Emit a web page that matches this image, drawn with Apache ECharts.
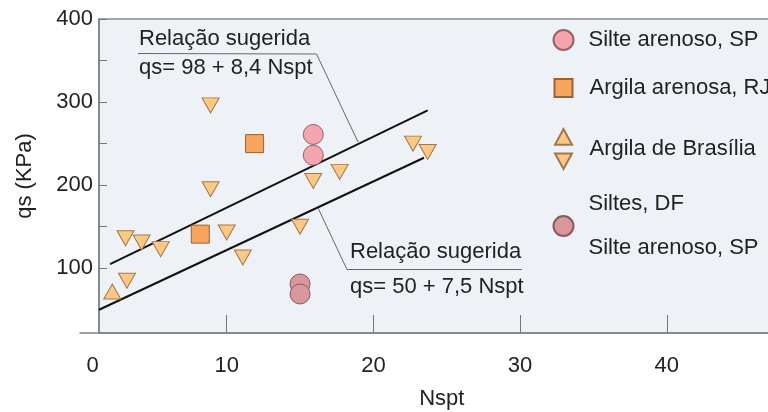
<!DOCTYPE html>
<html>
<head>
<meta charset="utf-8">
<script src="https://cdn.jsdelivr.net/npm/echarts@6/dist/echarts.min.js"></script>
<style>
  html, body { margin: 0; padding: 0; background: #fff; }
  #main { width: 768px; height: 412px; }
</style>
</head>
<body>
<div id="main"></div>
<script>
// dados (Nspt, qs)
var silteSP = [[15.9, 261], [15.9, 236]];
var argilaRJ = [[11.9, 250], [8.2, 141]];
var brasiliaDown = [[8.9, 296], [15.9, 205], [17.7, 216], [8.9, 195], [22.7, 250], [23.7, 240],
  [3.1, 136], [4.2, 131], [5.5, 123], [10.0, 143], [11.1, 113], [3.2, 85], [15.0, 150]];
var brasiliaUp = [[2.2, 72]];
var siltesDF = [[15.0, 81], [15.0, 69]];
// retas sugeridas (extremos)
var upperLine = [[2.05, 105], [23.7, 290]];
var lowerLine = [[1.3, 50], [23.45, 233]];
// eixos
var xLabels = [0, 10, 20, 30, 40];
var xTicks = [10, 20, 30, 40];
var yLabels = [100, 200, 300, 400];
var yTicks = [100, 150, 200, 250, 300, 350, 400];

var font = "'Liberation Sans', Arial, sans-serif";
var downTri = 'path://M0,0 L18,0 L9,16 Z';
var bothTri = 'path://M8.5,0 L17,15.7 L0,15.7 Z M0,24.4 L17,24.4 L8.5,40 Z';

var brasiliaData = brasiliaDown.map(function (v) { return { value: v }; })
  .concat(brasiliaUp.map(function (v) { return { value: v, symbol: 'triangle', symbolSize: [17, 15] }; }));

var myChart = echarts.init(document.getElementById('main'));

function legendItem(name, top, icon, w, h, textPad, extra) {
  var lg = {
    data: [{ name: name, icon: icon }],
    left: 562.5 - w / 2,
    top: top,
    padding: 0,
    itemWidth: w,
    itemHeight: h,
    selectedMode: false,
    textStyle: { fontSize: 22, fontFamily: font, color: '#222', padding: textPad }
  };
  if (extra) {
    for (var k in extra) lg[k] = extra[k];
  }
  return lg;
}

var option = {
  animation: false,
  textStyle: { fontFamily: font },
  grid: { left: 80, top: 19, width: 733.5, height: 314, outerBoundsMode: 'none' },
  xAxis: {
    type: 'value',
    min: 0,
    max: 50,
    name: 'Nspt',
    nameLocation: 'middle',
    nameGap: 55,
    nameTextStyle: { fontSize: 22, color: '#222', padding: [0, 10, 0, 0] },
    axisLine: { lineStyle: { color: '#808080', width: 1.5 } },
    axisTick: { inside: true, length: 18, customValues: xTicks, lineStyle: { color: '#777' } },
    axisLabel: {
      customValues: xLabels,
      fontSize: 22,
      color: '#222',
      margin: 22,
      formatter: function (v) { return v === 0 ? '{z|0}' : String(v); },
      rich: { z: { fontSize: 22, color: '#222', padding: [0, 0, 0, 25] } }
    },
    splitLine: { show: false }
  },
  yAxis: {
    type: 'value',
    min: 22,
    max: 400,
    offset: -19,
    name: 'qs (KPa)',
    nameLocation: 'middle',
    nameGap: 63,
    nameTextStyle: { fontSize: 22, color: '#222' },
    axisLine: { show: true, lineStyle: { color: '#808080', width: 1.5 } },
    axisTick: { show: true, inside: true, length: 8, customValues: yTicks, lineStyle: { color: '#777' } },
    axisLabel: { customValues: yLabels, fontSize: 22, color: '#222', margin: 6 },
    splitLine: { show: false }
  },
  legend: [
    legendItem('Silte arenoso, SP', 29, 'circle', 20, 20, [0, 0, 0, 10]),
    legendItem('Argila arenosa, RJ', 77, 'rect', 18, 18, [0, 0, 0, 12]),
    legendItem('Argila de Brasília', 128, bothTri, 17, 40, [0, 0, 7, 12.5]),
    legendItem('Siltes, DF', 193, 'circle', 20, 20, [0, 0, 0, 10], {
      formatter: function () { return 'Siltes, DF\n\nSilte arenoso, SP'; }
    })
  ],
  graphic: [
    // fundo da área do gráfico
    { type: 'rect', z: -100, silent: true,
      shape: { x: 99, y: 19, width: 720, height: 314 },
      style: { fill: '#eef2f6', stroke: '#8a8a8a', lineWidth: 1.5 } },
    // anotação superior
    { type: 'polyline', silent: true, z: 5,
      shape: { points: [[138, 53.5], [316.5, 54], [358, 142]] },
      style: { stroke: '#666', lineWidth: 1, fill: null } },
    { type: 'text', silent: true, z: 5,
      style: { text: 'Relação sugerida', x: 139, y: 38.5, verticalAlign: 'middle', fontSize: 22, fontFamily: font, fill: '#222' } },
    { type: 'text', silent: true, z: 5,
      style: { text: 'qs= 98 + 8,4 Nspt', x: 139, y: 68, verticalAlign: 'middle', fontSize: 22, fontFamily: font, fill: '#222' } },
    // anotação inferior
    { type: 'polyline', silent: true, z: 5,
      shape: { points: [[318, 208], [347, 269.5], [522, 269.5]] },
      style: { stroke: '#666', lineWidth: 1, fill: null } },
    { type: 'text', silent: true, z: 5,
      style: { text: 'Relação sugerida', x: 350, y: 252, verticalAlign: 'middle', fontSize: 22, fontFamily: font, fill: '#222' } },
    { type: 'text', silent: true, z: 5,
      style: { text: 'qs= 50 + 7,5 Nspt', x: 350, y: 286.5, verticalAlign: 'middle', fontSize: 22, fontFamily: font, fill: '#222' } }
  ],
  series: [
    { name: 'reta superior', type: 'line', data: upperLine, symbol: 'none', silent: true, z: 1,
      lineStyle: { color: '#111', width: 2 } },
    { name: 'reta inferior', type: 'line', data: lowerLine, symbol: 'none', silent: true, z: 1,
      lineStyle: { color: '#111', width: 2 } },
    { name: 'Silte arenoso, SP', type: 'scatter', data: silteSP, symbol: 'circle', symbolSize: 20,
      itemStyle: { color: '#f4a5ad', borderColor: '#9a5e62', borderWidth: 1, opacity: 1 } },
    { name: 'Argila arenosa, RJ', type: 'scatter', data: argilaRJ, symbol: 'rect', symbolSize: 18,
      itemStyle: { color: '#f6a45e', borderColor: '#9c6230', borderWidth: 1, opacity: 1 } },
    { name: 'Argila de Brasília', type: 'scatter', data: brasiliaData, symbol: downTri, symbolSize: [17, 15],
      itemStyle: { color: '#fcc883', borderColor: '#a0784c', borderWidth: 1, opacity: 1 } },
    { name: 'Siltes, DF', type: 'scatter', data: siltesDF, symbol: 'circle', symbolSize: 20,
      itemStyle: { color: '#d9979c', borderColor: '#8a5a5e', borderWidth: 1, opacity: 1 } }
  ]
};

myChart.setOption(option);
</script>
</body>
</html>
